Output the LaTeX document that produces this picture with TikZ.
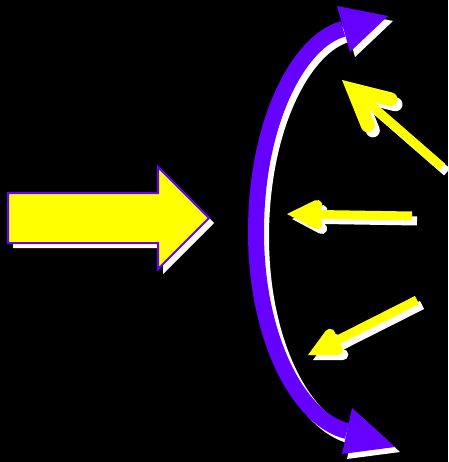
\documentclass[tikz,border=0pt]{standalone}
\usepackage{xcolor}
\usepackage{tikz}
\usetikzlibrary{calc}
\definecolor{arcpurple}{HTML}{6600FF}
\definecolor{rayyellow}{HTML}{FFFF00}

\tikzset{
  arcline/.style={line width=16pt},
  rayshaft/.style={line width=9pt},
  raybarb/.style={line cap=round, line join=miter}
}

\begin{document}
\begin{tikzpicture}[x=1pt, y=-1pt]
\fill[black] (0,0) rectangle (448,462);
\useasboundingbox (0,0) rectangle (448,462);

% big incoming arrow, white shadow first
\fill[white, shift={(5,5)}] (8,193) -- (158,193) -- (158,167) -- (209,218) -- (158,269) -- (158,243) -- (8,243) -- cycle;
\filldraw[fill=rayyellow, draw=arcpurple, line width=2pt] (8,193) -- (158,193) -- (158,167) -- (209,218) -- (158,269) -- (158,243) -- (8,243) -- cycle;

% curved double arrow
\foreach \col/\dx in {white/5, arcpurple/0} {
  \begin{scope}[shift={(\dx,\dx)}]
    \draw[arcline, \col] (343,29) .. controls (300,40) and (256,120) .. (256,232)
                                   .. controls (256,340) and (300,420) .. (347,431);
    \fill[\col] (337,6) -- (388,16) -- (350,52) -- cycle;
    \fill[\col] (352,408) -- (395,447) -- (342,454) -- cycle;
  \end{scope}
}

% reflected rays: tip / tail / barb length / barb width
\foreach \tx/\ty/\sx/\sy/\bl/\bw in {342/80/442/167/38/14, 287/214/412/216/20/11, 308/355/417/300/19/11} {
  \foreach \col/\dx in {white/5, rayyellow/0} {
    \begin{scope}[shift={(\dx,\dx)}]
      \coordinate (tip) at (\tx,\ty);
      \coordinate (tail) at (\sx,\sy);
      \pgfmathsetmacro{\miter}{\bw/2/sin(27)}
      \coordinate (head) at ($(tip)!\miter pt!(tail)$);
      \draw[rayshaft, \col] (tail) -- (head);
      \draw[raybarb, \col, line width=\bw pt] ($(head)!\bl pt!27:(tail)$) -- (head) -- ($(head)!\bl pt!-27:(tail)$);
    \end{scope}
  }
}
\end{tikzpicture}
\end{document}
